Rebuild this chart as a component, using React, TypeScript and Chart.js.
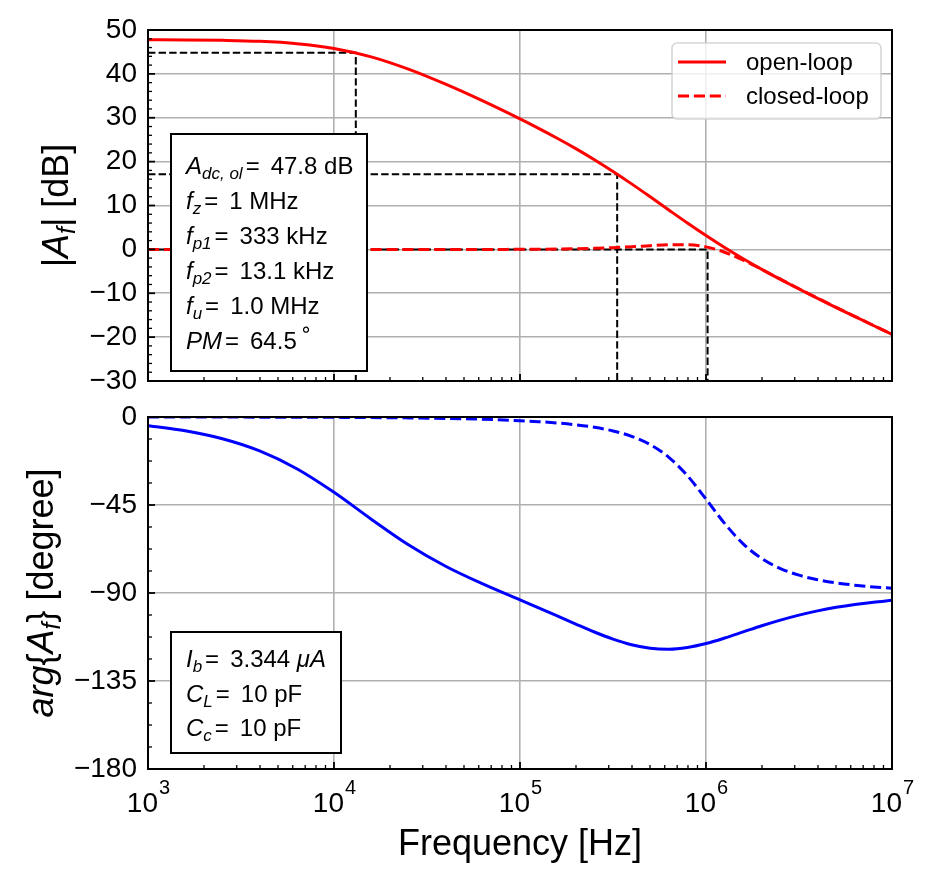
import { useEffect, useRef } from "react";
import { Chart, registerables } from "chart.js";

Chart.register(...registerables);

// ---------- data ----------
const freqs = [
  1000, 1585, 2512, 3981, 6310,
  10000, 15850, 25120, 39810, 63100,
  100000, 125900, 158500, 199500, 251200, 316200, 398100, 501200, 631000, 794300,
  1000000, 1259000, 1585000, 1995000, 2512000, 3162000, 3981000, 5012000, 6310000, 7943000,
  10000000,
];
const olMag = [
  47.78, 47.74, 47.64, 47.42, 46.89,
  45.8, 43.88, 41.08, 37.64, 33.83,
  29.74, 27.59, 25.34, 22.97, 20.44, 17.76, 14.93, 11.98, 8.98, 6.01,
  3.15, 0.42, -2.14, -4.55, -6.84, -9.04, -11.17, -13.26, -15.31, -17.35,
  -19.37,
];
const clMag = [
  -0.035, -0.035, -0.035, -0.035, -0.035,
  -0.035, -0.034, -0.032, -0.028, -0.016,
  0.013, 0.041, 0.084, 0.15, 0.249, 0.395, 0.594, 0.836, 1.054, 1.063,
  0.565, -0.65, -2.468, -4.589, -6.796, -8.977, -11.121, -13.218, -15.289, -17.33,
  -19.357,
];
const olPhase = [
  -4.48, -7.08, -11.14, -17.36, -26.44,
  -38.51, -52.24, -65.34, -76.33, -85.39,
  -93.55, -97.59, -101.72, -105.89, -109.95, -113.6, -116.5, -118.27, -118.74, -117.85,
  -115.83, -113.04, -109.91, -106.76, -103.86, -101.3, -99.13, -97.33, -95.86, -94.69,
  -93.73,
];
const clPhase = [
  -0.02, -0.03, -0.05, -0.07, -0.12,
  -0.18, -0.29, -0.46, -0.73, -1.16,
  -1.87, -2.38, -3.07, -3.99, -5.27, -7.13, -9.9, -14.14, -20.61, -30.0,
  -41.97, -54.41, -64.86, -72.4, -77.5, -80.89, -83.2, -84.83, -86.01, -86.9,
  -87.56,
];
// marker lines (f_p2, f_p1, f_u)
const refFreqs = [13100, 333000, 1020000];
const refLevels = [44.8, 17.1, 0];

const decades = [1e3, 1e4, 1e5, 1e6, 1e7];
const minorMultipliers = [2, 3, 4, 5, 6, 7, 8, 9];
const magTicks = [-30, -20, -10, 0, 10, 20, 30, 40, 50];
const phaseTicks = [-180, -135, -90, -45, 0];
const legendLabels = ["open-loop", "closed-loop"];

const topParams = [
  { main: "A", sub: "dc, ol", value: "47.8 dB" },
  { main: "f", sub: "z", value: "1 MHz" },
  { main: "f", sub: "p1", value: "333 kHz" },
  { main: "f", sub: "p2", value: "13.1 kHz" },
  { main: "f", sub: "u", value: "1.0 MHz" },
  { main: "PM", sub: "", value: "64.5", degree: true },
];
const bottomParams = [
  { main: "I", sub: "b", value: "3.344", unit: "\u03bcA" },
  { main: "C", sub: "L", value: "10 pF" },
  { main: "C", sub: "c", value: "10 pF" },
];

const FONT = "'Liberation Sans', Arial, Helvetica, sans-serif";
const RED = "#ff0000";
const BLUE = "#0000ff";
const GRID = "#b0b0b0";

type Seg = { t: string; it?: boolean; sub?: boolean };

const fmt = (v: number) => (v < 0 ? "\u2212" + Math.abs(v) : String(v));

function drawSegs(ctx: CanvasRenderingContext2D, segs: Seg[], size: number, x0: number, y0: number, center: boolean) {
  const subSize = Math.round(size * 0.7);
  const fontOf = (s: Seg) => `${s.it ? "italic " : ""}${s.sub ? subSize : size}px ${FONT}`;
  let w = 0;
  for (const s of segs) {
    ctx.font = fontOf(s);
    w += ctx.measureText(s.t).width;
  }
  let x = center ? x0 - w / 2 : x0;
  ctx.textAlign = "left";
  ctx.textBaseline = "alphabetic";
  for (const s of segs) {
    ctx.font = fontOf(s);
    ctx.fillText(s.t, x, y0 + (s.sub ? size * 0.2 : 0));
    x += ctx.measureText(s.t).width;
  }
}

function drawParam(ctx: CanvasRenderingContext2D, x: number, y: number, p: any) {
  ctx.fillStyle = "#000";
  ctx.textAlign = "left";
  ctx.textBaseline = "alphabetic";
  ctx.font = `italic 24px ${FONT}`;
  ctx.fillText(p.main, x, y);
  x += ctx.measureText(p.main).width;
  if (p.sub) {
    ctx.font = `italic 17px ${FONT}`;
    ctx.fillText(p.sub, x, y + 5);
    x += ctx.measureText(p.sub).width;
  }
  ctx.font = `24px ${FONT}`;
  x += 3;
  ctx.fillText("=", x, y);
  x += ctx.measureText("=").width + 11;
  ctx.fillText(p.value, x, y);
  x += ctx.measureText(p.value).width;
  if (p.unit) {
    x += ctx.measureText(" ").width;
    ctx.font = `italic 24px ${FONT}`;
    ctx.fillText(p.unit, x, y);
  }
  if (p.degree) {
    ctx.font = `20px 'DejaVu Sans', sans-serif`;
    ctx.fillText("\u2218", x + 3, y - 13);
  }
}

function drawFrameAndTicks(chart: any, yMajors: number[], yMinorStep: number) {
  const { ctx, chartArea: a, scales } = chart;
  const xs = scales.x;
  const ys = scales.y;
  ctx.save();
  ctx.strokeStyle = "#000";
  // x ticks (bottom, inward)
  ctx.lineWidth = 1.8;
  for (const d of decades) {
    const px = xs.getPixelForValue(d);
    ctx.beginPath();
    ctx.moveTo(px, a.bottom);
    ctx.lineTo(px, a.bottom - 7);
    ctx.stroke();
  }
  ctx.lineWidth = 1.3;
  for (const d of decades.slice(0, -1)) {
    for (const m of minorMultipliers) {
      const px = xs.getPixelForValue(d * m);
      ctx.beginPath();
      ctx.moveTo(px, a.bottom);
      ctx.lineTo(px, a.bottom - 4);
      ctx.stroke();
    }
  }
  // y ticks (left, inward)
  ctx.lineWidth = 1.8;
  for (const v of yMajors) {
    const py = ys.getPixelForValue(v);
    ctx.beginPath();
    ctx.moveTo(a.left, py);
    ctx.lineTo(a.left + 7, py);
    ctx.stroke();
  }
  ctx.lineWidth = 1.3;
  const lo = yMajors[0];
  const hi = yMajors[yMajors.length - 1];
  for (let v = lo; v <= hi + 1e-9; v += yMinorStep) {
    if (yMajors.some((m) => Math.abs(m - v) < 1e-6)) continue;
    const py = ys.getPixelForValue(v);
    ctx.beginPath();
    ctx.moveTo(a.left, py);
    ctx.lineTo(a.left + 4, py);
    ctx.stroke();
  }
  // frame
  ctx.lineWidth = 2;
  ctx.strokeRect(a.left, a.top, a.right - a.left, a.bottom - a.top);
  ctx.restore();
}

const topPlugin = {
  id: "topDecor",
  afterDraw(chart: any) {
    const { ctx, chartArea: a } = chart;
    drawFrameAndTicks(chart, magTicks, 2);
    ctx.save();
    // parameter box
    const bx = a.left + 23, by = a.top + 104, bw = 196, bh = 237;
    ctx.fillStyle = "#fff";
    ctx.fillRect(bx, by, bw, bh);
    ctx.strokeStyle = "#000";
    ctx.lineWidth = 2;
    ctx.strokeRect(bx, by, bw, bh);
    topParams.forEach((p, i) => {
      const y = i < 5 ? a.top + 144 + i * 34.9 : a.top + 319;
      drawParam(ctx, a.left + 38, y, p);
    });
    // legend
    const lx = a.right - 220, ly = a.top + 13, lw = 209, lh = 76;
    ctx.beginPath();
    ctx.roundRect(lx, ly, lw, lh, 5);
    ctx.fillStyle = "rgba(255,255,255,0.8)";
    ctx.fill();
    ctx.strokeStyle = "rgba(204,204,204,0.8)";
    ctx.lineWidth = 1.6;
    ctx.stroke();
    legendLabels.forEach((lab, i) => {
      const ry = a.top + 32 + i * 34;
      ctx.strokeStyle = RED;
      ctx.lineWidth = 3;
      ctx.setLineDash(i === 0 ? [] : [11.1, 4.8]);
      ctx.beginPath();
      ctx.moveTo(a.right - 214, ry);
      ctx.lineTo(a.right - 166, ry);
      ctx.stroke();
      ctx.setLineDash([]);
      ctx.fillStyle = "#000";
      ctx.font = `24px ${FONT}`;
      ctx.textAlign = "left";
      ctx.textBaseline = "middle";
      ctx.fillText(lab, a.right - 146, ry + 1);
    });
    // y title
    ctx.fillStyle = "#000";
    ctx.translate(68, (a.top + a.bottom) / 2);
    ctx.rotate(-Math.PI / 2);
    drawSegs(ctx, [{ t: "|" }, { t: "A", it: true }, { t: "f", it: true, sub: true }, { t: "|" }, { t: " [dB]" }], 36, 0, 0, true);
    ctx.restore();
  },
};

const bottomPlugin = {
  id: "bottomDecor",
  afterDraw(chart: any) {
    const { ctx, chartArea: a, scales } = chart;
    drawFrameAndTicks(chart, phaseTicks, 11.25);
    ctx.save();
    // parameter box
    const bx = a.left + 23, by = a.top + 215, bw = 170, bh = 121;
    ctx.fillStyle = "#fff";
    ctx.fillRect(bx, by, bw, bh);
    ctx.strokeStyle = "#000";
    ctx.lineWidth = 2;
    ctx.strokeRect(bx, by, bw, bh);
    bottomParams.forEach((p, i) => {
      drawParam(ctx, a.left + 38, a.top + 250 + i * 34.6, p);
    });
    // x tick labels 10^n
    ctx.fillStyle = "#000";
    for (const d of decades) {
      const px = scales.x.getPixelForValue(d);
      const exp = String(Math.round(Math.log10(d)));
      ctx.font = `28px ${FONT}`;
      const w1 = ctx.measureText("10").width;
      ctx.font = `20px ${FONT}`;
      const w2 = ctx.measureText(exp).width;
      const x0 = px - (w1 + w2) / 2;
      ctx.textAlign = "left";
      ctx.textBaseline = "alphabetic";
      ctx.font = `28px ${FONT}`;
      ctx.fillText("10", x0, a.bottom + 43);
      ctx.font = `20px ${FONT}`;
      ctx.fillText(exp, x0 + w1 + 1, a.bottom + 25);
    }
    // x title
    ctx.font = `36px ${FONT}`;
    ctx.textAlign = "center";
    ctx.fillText("Frequency [Hz]", (a.left + a.right) / 2, a.bottom + 86);
    // y title
    ctx.translate(53, (a.top + a.bottom) / 2);
    ctx.rotate(-Math.PI / 2);
    drawSegs(
      ctx,
      [{ t: "arg", it: true }, { t: "{" }, { t: "A", it: true }, { t: "f", it: true, sub: true }, { t: "}" }, { t: " [degree]" }],
      36, 0, 0, true
    );
    ctx.restore();
  },
};

function pts(ys: number[]) {
  return freqs.map((f, i) => ({ x: f, y: ys[i] }));
}

function refLine(i: number, yBottom: number) {
  return {
    data: [
      { x: decades[0], y: refLevels[i] },
      { x: refFreqs[i], y: refLevels[i] },
      { x: refFreqs[i], y: yBottom },
    ],
    borderColor: "#000",
    borderWidth: 2,
    borderDash: [7.4, 3.2],
    tension: 0,
    pointRadius: 0,
    order: 3,
  };
}

function makeConfig(datasets: any[], ticks: number[], padding: any, xHeight: number, plugin: any) {
  return {
    type: "line",
    data: { datasets },
    options: {
      responsive: false,
      animation: false,
      events: [],
      layout: { padding, autoPadding: false },
      plugins: { legend: { display: false }, tooltip: { enabled: false } },
      elements: { point: { radius: 0 } },
      scales: {
        x: {
          type: "logarithmic",
          min: decades[0],
          max: decades[decades.length - 1],
          afterBuildTicks: (s: any) => {
            s.ticks = decades.map((v) => ({ value: v }));
          },
          ticks: { display: false },
          grid: { color: GRID, lineWidth: 1.6, drawTicks: false },
          border: { display: false },
          afterFit: (s: any) => {
            s.height = xHeight;
            s.paddingLeft = 0;
            s.paddingRight = 0;
          },
        },
        y: {
          type: "linear",
          min: ticks[0],
          max: ticks[ticks.length - 1],
          afterBuildTicks: (s: any) => {
            s.ticks = ticks.map((v) => ({ value: v }));
          },
          ticks: {
            font: { family: FONT, size: 28 },
            color: "#000",
            padding: 11,
            callback: (v: any) => fmt(Number(v)),
          },
          grid: { color: GRID, lineWidth: 1.6, drawTicks: false },
          border: { display: false },
          afterFit: (s: any) => {
            s.width = 148;
            s.paddingTop = 0;
            s.paddingBottom = 0;
          },
        },
      },
    },
    plugins: [plugin],
  } as any;
}

export default function App() {
  const topRef = useRef<HTMLCanvasElement>(null);
  const botRef = useRef<HTMLCanvasElement>(null);

  useEffect(() => {
    const topSets = [
      {
        data: pts(olMag),
        borderColor: RED,
        borderWidth: 3,
        cubicInterpolationMode: "monotone",
        pointRadius: 0,
        order: 1,
      },
      {
        data: pts(clMag),
        borderColor: RED,
        borderWidth: 3,
        borderDash: [11.1, 4.8],
        cubicInterpolationMode: "monotone",
        pointRadius: 0,
        order: 2,
      },
      refLine(0, magTicks[0]),
      refLine(1, magTicks[0]),
      refLine(2, magTicks[0]),
    ];
    const botSets = [
      {
        data: pts(olPhase),
        borderColor: BLUE,
        borderWidth: 3,
        cubicInterpolationMode: "monotone",
        pointRadius: 0,
        order: 1,
      },
      {
        data: pts(clPhase),
        borderColor: BLUE,
        borderWidth: 3,
        borderDash: [11.1, 4.8],
        cubicInterpolationMode: "monotone",
        pointRadius: 0,
        order: 2,
      },
    ];
    const c1 = new Chart(
      topRef.current as HTMLCanvasElement,
      makeConfig(topSets, magTicks, { top: 30, right: 41, bottom: 0, left: 0 }, 19, topPlugin)
    );
    const c2 = new Chart(
      botRef.current as HTMLCanvasElement,
      makeConfig(botSets, phaseTicks, { top: 27, right: 41, bottom: 0, left: 0 }, 113, bottomPlugin)
    );
    return () => {
      c1.destroy();
      c2.destroy();
    };
  }, []);

  return (
    <div style={{ position: "absolute", left: 0, top: 0, width: 933, height: 882, background: "#fff", overflow: "hidden" }}>
      <canvas
        ref={topRef}
        width={933}
        height={400}
        style={{ position: "absolute", left: 0, top: 0, width: 933, height: 400 }}
      />
      <canvas
        ref={botRef}
        width={933}
        height={492}
        style={{ position: "absolute", left: 0, top: 390, width: 933, height: 492 }}
      />
    </div>
  );
}
